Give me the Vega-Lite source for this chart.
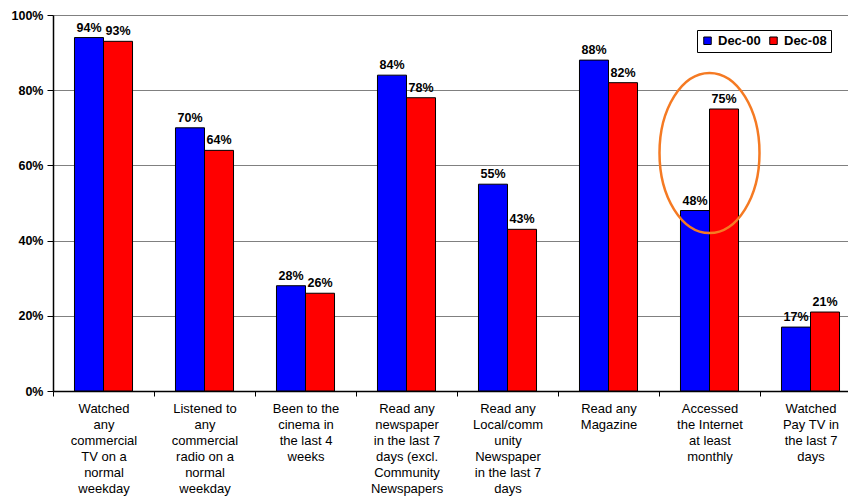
{
  "$schema": "https://vega.github.io/schema/vega-lite/v6.json",
  "width": 795,
  "height": 376,
  "autosize": {"type": "none"},
  "padding": {"left": 53, "top": 15, "right": 0, "bottom": 109},
  "background": "white",
  "config": {
    "font": "Liberation Sans",
    "view": {"stroke": null}
  },
  "datasets": {
    "bars": [
      {"cat": "Watched|any|commercial|TV on a|normal|weekday", "series": "Dec-00", "value": 0.94},
      {"cat": "Watched|any|commercial|TV on a|normal|weekday", "series": "Dec-08", "value": 0.93},
      {"cat": "Listened to|any|commercial|radio on a|normal|weekday", "series": "Dec-00", "value": 0.70},
      {"cat": "Listened to|any|commercial|radio on a|normal|weekday", "series": "Dec-08", "value": 0.64},
      {"cat": "Been to the|cinema in|the last 4|weeks", "series": "Dec-00", "value": 0.28},
      {"cat": "Been to the|cinema in|the last 4|weeks", "series": "Dec-08", "value": 0.26},
      {"cat": "Read any|newspaper|in the last 7|days (excl.|Community|Newspapers", "series": "Dec-00", "value": 0.84},
      {"cat": "Read any|newspaper|in the last 7|days (excl.|Community|Newspapers", "series": "Dec-08", "value": 0.78},
      {"cat": "Read any|Local/comm|unity|Newspaper|in the last 7|days", "series": "Dec-00", "value": 0.55},
      {"cat": "Read any|Local/comm|unity|Newspaper|in the last 7|days", "series": "Dec-08", "value": 0.43},
      {"cat": "Read any|Magazine", "series": "Dec-00", "value": 0.88},
      {"cat": "Read any|Magazine", "series": "Dec-08", "value": 0.82},
      {"cat": "Accessed|the Internet|at least|monthly", "series": "Dec-00", "value": 0.48},
      {"cat": "Accessed|the Internet|at least|monthly", "series": "Dec-08", "value": 0.75},
      {"cat": "Watched|Pay TV in|the last 7|days", "series": "Dec-00", "value": 0.17},
      {"cat": "Watched|Pay TV in|the last 7|days", "series": "Dec-08", "value": 0.21}
    ],
    "highlight": [
      {"cat": "Accessed|the Internet|at least|monthly", "value": 0.633}
    ]
  },
  "encoding": {
    "x": {
      "field": "cat",
      "type": "nominal",
      "sort": null,
      "scale": {
        "domain": [
          "Watched|any|commercial|TV on a|normal|weekday",
          "Listened to|any|commercial|radio on a|normal|weekday",
          "Been to the|cinema in|the last 4|weeks",
          "Read any|newspaper|in the last 7|days (excl.|Community|Newspapers",
          "Read any|Local/comm|unity|Newspaper|in the last 7|days",
          "Read any|Magazine",
          "Accessed|the Internet|at least|monthly",
          "Watched|Pay TV in|the last 7|days"
        ],
        "range": [0, 808],
        "paddingInner": 0,
        "paddingOuter": 0
      },
      "axis": {
        "title": null,
        "grid": false,
        "labelAngle": 0,
        "labelExpr": "split(datum.value, '|')",
        "labelFontSize": 13,
        "labelLineHeight": 16,
        "labelColor": "black",
        "labelPadding": 6,
        "labelBaseline": "top",
        "domainColor": "black",
        "domainWidth": 1.5,
        "ticks": true,
        "tickColor": "black",
        "tickWidth": 1,
        "tickSize": 5,
        "tickOffset": -50.5,
        "labelOffset": 50.5,
        "labelLimit": 0
      }
    },
    "y": {
      "field": "value",
      "type": "quantitative",
      "scale": {"domain": [0, 1]},
      "axis": {
        "title": null,
        "format": ".0%",
        "values": [0, 0.2, 0.4, 0.6, 0.8, 1],
        "labelFontSize": 12.5,
        "labelFontWeight": "bold",
        "labelColor": "black",
        "labelPadding": 4,
        "domainColor": "black",
        "domainWidth": 1.5,
        "tickColor": "black",
        "tickSize": 6,
        "grid": true,
        "gridColor": "#808080",
        "gridWidth": 1
      }
    }
  },
  "layer": [
    {
      "data": {"name": "bars"},
      "mark": {"type": "bar", "stroke": "black", "strokeWidth": 1},
      "encoding": {
        "xOffset": {
          "field": "series",
          "type": "nominal",
          "scale": {"paddingOuter": 0.74, "paddingInner": 0}
        },
        "color": {
          "field": "series",
          "type": "nominal",
          "scale": {"domain": ["Dec-00", "Dec-08"], "range": ["#0000ff", "#ff0000"]},
          "legend": {
            "title": null,
            "orient": "none",
            "legendX": 644,
            "legendY": 15,
            "direction": "horizontal",
            "strokeColor": "black",
            "fillColor": "white",
            "padding": 4,
            "symbolType": "square",
            "symbolSize": 56,
            "symbolStrokeColor": "black",
            "symbolStrokeWidth": 1,
            "symbolOpacity": 1,
            "labelFontSize": 13,
            "labelFontWeight": "bold",
            "labelColor": "black",
            "columnPadding": 6,
            "labelOffset": 4
          }
        }
      }
    },
    {
      "data": {"name": "bars"},
      "mark": {"type": "text", "fontSize": 12.5, "fontWeight": "bold", "baseline": "alphabetic", "dy": -6, "color": "black"},
      "encoding": {
        "xOffset": {"field": "series", "type": "nominal"},
        "text": {"field": "value", "type": "quantitative", "format": ".0%"}
      }
    },
    {
      "data": {"name": "highlight"},
      "mark": {
        "type": "point",
        "shape": "M -0.625 0 A 0.625 1 0 1 0 0.625 0 A 0.625 1 0 1 0 -0.625 0 Z",
        "size": 25600,
        "filled": false,
        "stroke": "#f57a23",
        "strokeWidth": 2.5,
        "opacity": 1
      },
      "encoding": {}
    }
  ]
}
